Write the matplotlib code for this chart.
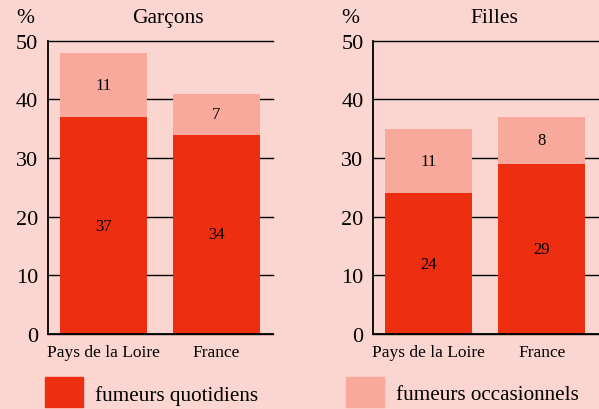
import numpy as np
import matplotlib.pyplot as plt
from matplotlib.patches import Rectangle

# data
regions = ['Pays de la Loire', 'France']
garcons_quot = [37, 34]
garcons_occ = [11, 7]
filles_quot = [24, 29]
filles_occ = [11, 8]
yticks = [0, 10, 20, 30, 40, 50]

bg = '#FBD5CF'
dark = '#EE2E10'
light = '#F8A99B'

plt.rcParams['font.family'] = ['Liberation Serif', 'DejaVu Serif']

fig = plt.figure(figsize=(5.99, 4.10), dpi=100, facecolor=bg)


def panel(rect, quot, occ, title, title_x):
    ax = fig.add_axes(rect)
    ax.set_facecolor(bg)
    x = np.arange(len(regions))
    ax.bar(x, quot, width=0.77, color=dark, zorder=3)
    ax.bar(x, occ, width=0.77, bottom=quot, color=light, zorder=3)
    for xi, q, o in zip(x, quot, occ):
        ax.text(xi, q / 2, str(q), ha='center', va='center', fontsize=12, zorder=4)
        ax.text(xi, q + o / 2, str(o), ha='center', va='center', fontsize=12, zorder=4)
    ax.set_xlim(-0.49, 1.5)
    ax.set_ylim(0, 50)
    ax.set_yticks(yticks)
    ax.set_xticks(x)
    ax.set_xticklabels(regions, fontsize=12.5)
    ax.tick_params(axis='y', length=0, pad=7, labelsize=16)
    ax.tick_params(axis='x', length=0, pad=7)
    ax.yaxis.grid(True, color='black', linewidth=1.0, zorder=1)
    for gl in ax.get_ygridlines():
        gl.set_clip_on(False)
    ax.set_axisbelow(True)
    for s in ['top', 'right']:
        ax.spines[s].set_visible(False)
    for s in ['left', 'bottom']:
        ax.spines[s].set_linewidth(1.3)
        ax.spines[s].set_zorder(5)
    ax.text(title_x, 1.08, title, transform=ax.transAxes, ha='center', va='center', fontsize=15.5)
    ax.text(-0.1, 1.08, '%', transform=ax.transAxes, ha='center', va='center', fontsize=15.5)
    return ax


panel([0.080, 0.183, 0.376, 0.715], garcons_quot, garcons_occ, 'Garçons', 0.533)
panel([0.623, 0.183, 0.376, 0.715], filles_quot, filles_occ, 'Filles', 0.54)

# legend
fig.add_artist(Rectangle((45 / 599, 2 / 410), 38 / 599, 30 / 410, color=dark, transform=fig.transFigure))
fig.text(95 / 599, 14 / 410, 'fumeurs quotidiens', fontsize=15.2, va='center')
fig.add_artist(Rectangle((346 / 599, 2 / 410), 38 / 599, 30 / 410, color=light, transform=fig.transFigure))
fig.text(396 / 599, 14 / 410, 'fumeurs occasionnels', fontsize=15.2, va='center')

plt.savefig('out.png', dpi=100, facecolor=bg)
